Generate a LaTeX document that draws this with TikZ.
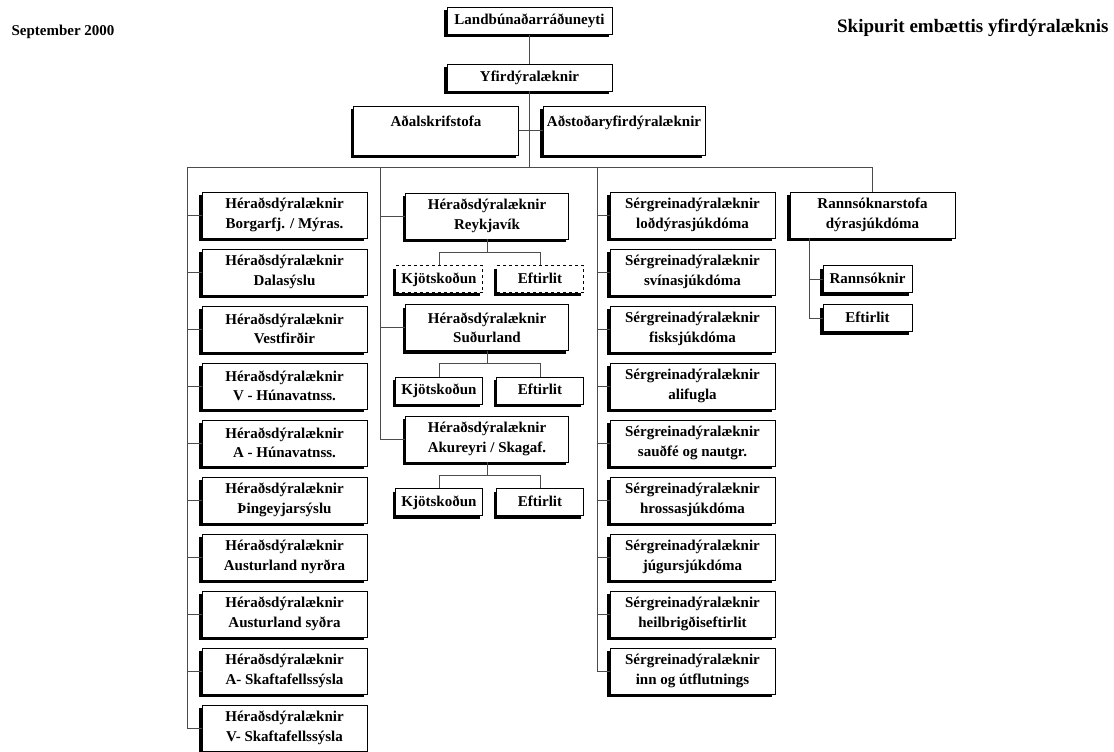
\documentclass[tikz,border=0pt]{standalone}
\usepackage{fontspec}
\setmainfont{Liberation Serif}
\usetikzlibrary{shadows,positioning}
\tikzstyle{block} = [draw, fill=white, rectangle, align=center,
    font=\bfseries\fontsize{15}{19.5}\selectfont, inner sep=1pt,
    minimum height=46pt, minimum width=165pt,
    drop shadow={shadow xshift=-3pt, shadow yshift=-3pt, fill=black, opacity=1}]
\tikzstyle{topblock} = [block, minimum height=27pt]
\tikzstyle{subblock} = [block, minimum height=27pt, minimum width=87pt,
    text height=11pt, text depth=3pt]
\tikzstyle{conn} = [draw, black!70, line width=0.8pt]

\begin{document}
\begin{tikzpicture}[x=1pt, y=-1pt, node distance=57pt]
    \useasboundingbox (0,0) rectangle (1114,752);
    % We start by placing the titles and the top blocks
    \node [anchor=west, font=\bfseries\fontsize{15}{18}\selectfont] (date) at (8,32) {September 2000};
    \node [anchor=east, font=\bfseries\fontsize{19}{22}\selectfont] (title) at (1112,28) {Skipurit embættis yfirdýralæknis};
    \node [topblock] (land) at (529.5,21) {Landbúnaðarráðuneyti};
    \node [topblock, below of=land, node distance=56.5pt] (yfir) {Yfirdýralæknir};
    \node [block, minimum height=49pt] (adal) at (436,130.5) {Aðalskrifstofa\\~};
    \node [block, minimum height=49pt, minimum width=162pt] (adst) at (624,130.5) {Aðstoðaryfirdýralæknir\\~};

    % Left column of district vets
    \node [block] (l1) at (284.5,215) {Héraðsdýralæknir\\Borgarfj. / Mýras.};
    \node [block, below of=l1] (l2) {Héraðsdýralæknir\\Dalasýslu};
    \node [block, below of=l2] (l3) {Héraðsdýralæknir\\Vestfirðir};
    \node [block, below of=l3] (l4) {Héraðsdýralæknir\\V - Húnavatnss.};
    \node [block, below of=l4] (l5) {Héraðsdýralæknir\\A - Húnavatnss.};
    \node [block, below of=l5] (l6) {Héraðsdýralæknir\\Þingeyjarsýslu};
    \node [block, below of=l6] (l7) {Héraðsdýralæknir\\Austurland nyrðra};
    \node [block, below of=l7] (l8) {Héraðsdýralæknir\\Austurland syðra};
    \node [block, below of=l8] (l9) {Héraðsdýralæknir\\A- Skaftafellssýsla};
    \node [block, below of=l9] (l10) {Héraðsdýralæknir\\V- Skaftafellssýsla};

    % Middle column, each district with its two units
    \node [block, minimum width=163pt] (reyk) at (487,216) {Héraðsdýralæknir\\Reykjavík};
    \node [subblock, dashed, below of=reyk, node distance=63pt, xshift=-48pt] (reykkjot) {Kjötskoðun};
    \node [subblock, dashed, below of=reyk, node distance=63pt, xshift=53pt] (reykeft) {Eftirlit};
    \node [block, minimum width=163pt, below of=reyk, node distance=111.5pt] (sudur) {Héraðsdýralæknir\\Suðurland};
    \node [subblock, below of=sudur, node distance=63pt, xshift=-48pt] (sudurkjot) {Kjötskoðun};
    \node [subblock, below of=sudur, node distance=63pt, xshift=53pt] (sudureft) {Eftirlit};
    \node [block, minimum width=163pt, below of=sudur, node distance=111.5pt] (akur) {Héraðsdýralæknir\\Akureyri / Skagaf.};
    \node [subblock, below of=akur, node distance=63pt, xshift=-48pt] (akurkjot) {Kjötskoðun};
    \node [subblock, below of=akur, node distance=63pt, xshift=53pt] (akureft) {Eftirlit};

    % Specialist vets
    \node [block] (s1) at (692.5,215) {Sérgreinadýralæknir\\loðdýrasjúkdóma};
    \node [block, below of=s1] (s2) {Sérgreinadýralæknir\\svínasjúkdóma};
    \node [block, below of=s2] (s3) {Sérgreinadýralæknir\\fisksjúkdóma};
    \node [block, below of=s3] (s4) {Sérgreinadýralæknir\\alifugla};
    \node [block, below of=s4] (s5) {Sérgreinadýralæknir\\sauðfé og nautgr.};
    \node [block, below of=s5] (s6) {Sérgreinadýralæknir\\hrossasjúkdóma};
    \node [block, below of=s6] (s7) {Sérgreinadýralæknir\\júgursjúkdóma};
    \node [block, below of=s7] (s8) {Sérgreinadýralæknir\\heilbrigðiseftirlit};
    \node [block, below of=s8] (s9) {Sérgreinadýralæknir\\inn og útflutnings};

    % Laboratory
    \node [block] (rann) at (872.5,215) {Rannsóknarstofa\\dýrasjúkdóma};
    \node [subblock, minimum width=89pt, below of=rann, node distance=64pt, xshift=-5pt] (rannsok) {Rannsóknir};
    \node [subblock, minimum width=89pt, below of=rannsok, node distance=39pt] (ranneft) {Eftirlit};

    % Once the nodes are placed, connecting them is easy.
    \coordinate (lbus) at (187,167);
    \coordinate (mbus) at (380,167);
    \coordinate (sbus) at (597,167);
    \draw [conn] (land) -- (yfir);
    \draw [conn] (yfir) -- (yfir |- lbus);
    \draw [conn] (adal) -- (adst);
    \draw [conn] (lbus) -| (rann);
    \foreach \i in {1,...,10} \draw [conn] (lbus) |- (l\i.west);
    \foreach \i in {1,...,9} \draw [conn] (sbus) |- (s\i.west);
    \foreach \blk in {reyk,sudur,akur} {
        \draw [conn] (mbus) |- (\blk.west);
        \draw [conn] (\blk.south) -- +(0,13) -| (\blk kjot);
        \draw [conn] (\blk.south) ++(0,13) -| (\blk eft);
    }
    \draw [conn] (rann.south west) ++(20,0) |- (rannsok);
    \draw [conn] (rann.south west) ++(20,0) |- (ranneft);
\end{tikzpicture}
\end{document}
